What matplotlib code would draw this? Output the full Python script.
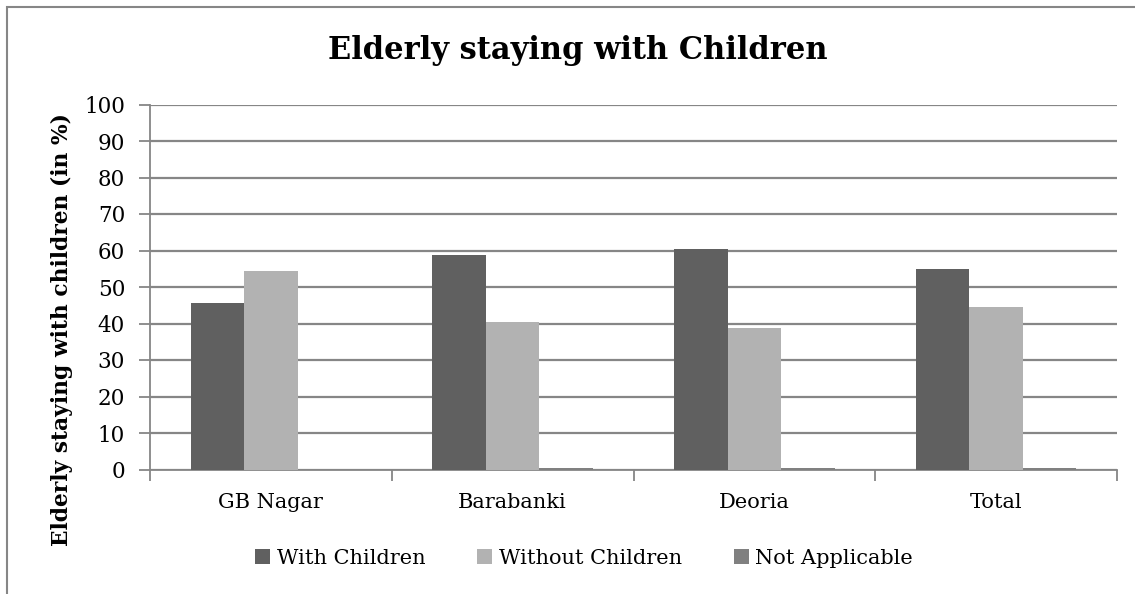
import numpy as np
import matplotlib.pyplot as plt
from matplotlib.patches import Rectangle

# district-wise share of elderly living with / without children (%)
districts = ['GB Nagar', 'Barabanki', 'Deoria', 'Total']
with_children = [45.6, 58.8, 60.4, 55.0]
without_children = [54.3, 40.4, 38.8, 44.5]
not_applicable = [0.0, 0.4, 0.5, 0.3]

series = [('With Children', with_children, '#606060'),
          ('Without Children', without_children, '#b2b2b2'),
          ('Not Applicable', not_applicable, '#808080')]

plt.rcParams['font.family'] = ['DejaVu Serif']

fig = plt.figure(figsize=(11.35, 5.94), dpi=100)
ax = fig.add_axes([150/1135, 1-469.5/594, 967/1135, 365/594])

# outer chart frame
fig.patches.append(Rectangle((7/1135, -0.1), 1.2, 1-7/594+0.1, transform=fig.transFigure,
                             fill=False, edgecolor='#868686', lw=1.5))

x = np.arange(len(districts))
w = 0.221
for i, (name, vals, col) in enumerate(series):
    ax.bar(x + (i-1)*w, vals, w, color=col, label=name, zorder=3)

ax.set_xlim(-0.5, len(districts)-0.5)
ax.set_ylim(0, 100)
ax.set_yticks(range(0, 101, 10))
ax.set_xticks(x)
ax.set_xticklabels(districts, fontsize=15)
ax.set_xticks(np.arange(-0.5, len(districts)), minor=True)
ax.tick_params(axis='x', which='major', length=0, pad=17)
ax.tick_params(axis='x', which='minor', length=8, width=1.3, color='#868686')
ax.tick_params(axis='y', length=8, width=1.3, color='#868686', labelsize=15.5, pad=10)
ax.grid(axis='y', color='#868686', lw=1.6, zorder=0)
for s in ['top', 'right']:
    ax.spines[s].set_visible(False)
for s in ['left', 'bottom']:
    ax.spines[s].set_color('#868686')
    ax.spines[s].set_linewidth(1.3)

fig.text(62/1135, 1-330/594, 'Elderly staying with children (in %)', fontsize=15.7,
         fontweight='bold', rotation=90, ha='center', va='center')
fig.text(578/1135, 1-50/594, 'Elderly staying with Children', fontsize=22, fontweight='bold',
         ha='center', va='center')

ax.legend(loc='center', bbox_to_anchor=(0.449, -0.243), ncol=3, frameon=False, fontsize=15,
          handlelength=0.72, handleheight=0.72, handletextpad=0.3, columnspacing=2.5)

fig.savefig('out.png', dpi=100)
